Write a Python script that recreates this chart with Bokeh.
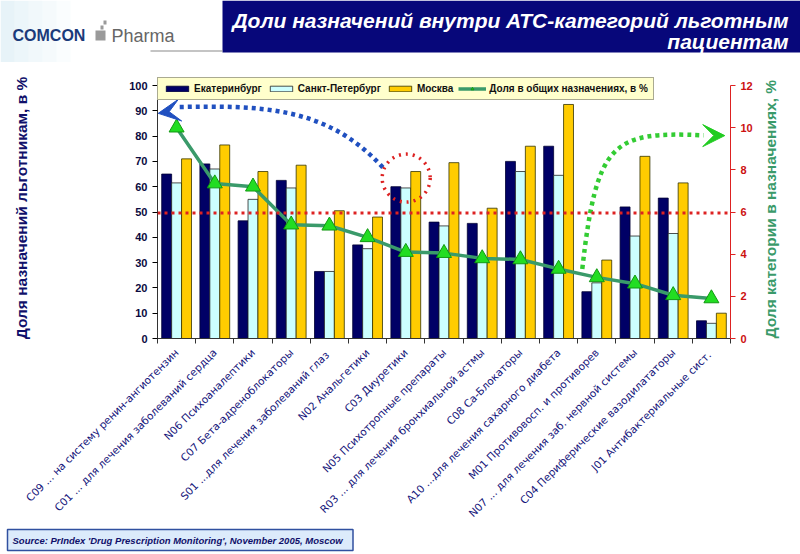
import math
from bokeh.plotting import figure
from bokeh.layouts import column
from bokeh.models import (Range1d, LinearAxis, FixedTicker, Span, Title,
                          Legend, LegendItem, Arrow, VeeHead, ColumnDataSource)
from bokeh.embed import file_html
from bokeh.resources import INLINE
from bokeh.core.properties import value

# ---------------- data ----------------
categories = [
    "C09 ... на систему ренин-ангиотензин",
    "C01 ... для лечения заболеваний сердца",
    "N06 Психоаналептики",
    "C07 Бета-адреноблокаторы",
    "S01 ...для лечения  заболеваний глаз",
    "N02 Анальгетики",
    "C03 Диуретики",
    "N05 Психотропные препараты",
    "R03 ... для лечения бронхиальной астмы",
    "C08 Ca-Блокаторы",
    "A10 ...для лечения сахарного диабета",
    "M01 Противовосп. и противорев",
    "N07 ... для лечения заб. нервной системы",
    "C04 Периферические вазодилататоры",
    "J01 Антибактериальные  сист.",
]
ekaterinburg = [65, 69, 46.5, 62.5, 26.5, 37, 60, 46, 45.5, 70, 76, 18.5, 52, 55.5, 7]
spb = [61.5, 67, 55, 59.5, 26.5, 35.5, 59.5, 44.5, 32, 66, 64.5, 22, 40.5, 41.5, 6]
moscow = [71, 76.5, 66, 68.5, 50.5, 48, 66, 69.5, 51.5, 76, 92.5, 31, 72, 61.5, 10]
share = [10.0, 7.35, 7.2, 5.4, 5.35, 4.8, 4.1, 4.05, 3.8, 3.75, 3.3, 2.9, 2.6, 2.05, 1.9]
left_ticks = [0, 10, 20, 30, 40, 50, 60, 70, 80, 90, 100]
right_ticks = [0, 2, 4, 6, 8, 10, 12]
series_names = ["Екатеринбург", "Санкт-Петербург", "Москва", "Доля в общих назначениях, в %"]
title_lines = ["Доли назначений внутри АТС-категорий льготным", "пациентам"]
left_label = "Доля назначений льготникам, в %"
right_label = "Доля категории в назначениях, %"
source_text = "Source:  PrIndex 'Drug Prescription Monitoring',  November 2005, Moscow"
logo_words = ["COMCON", "Pharma"]

W, H = 800, 554
HEAD = 62
sans = "Liberation Sans"

# ---------------- header ----------------
hd = figure(width=W, height=HEAD, output_backend="svg", toolbar_location=None,
            x_range=Range1d(0, W), y_range=Range1d(HEAD, 0),
            x_axis_type=None, y_axis_type=None, min_border=0)
hd.frame_align = False
hd.outline_line_color = None
hd.grid.visible = False
for i, a in enumerate([0.5, 0.4, 0.3, 0.2, 0.1]):
    hd.quad(left=i * 14, right=(i + 1) * 14, top=0, bottom=HEAD,
            fill_color="#cfe8f2", fill_alpha=a, line_alpha=0)
hd.quad(left=222, right=W, top=0, bottom=52, fill_color="#07077a", line_alpha=0)
hd.quad(left=150, right=222, top=50, bottom=51, fill_color="#8a8a8a", line_alpha=0)
hd.text(x=[788, 788], y=[20, 41], text=title_lines, text_align="right",
        text_baseline="alphabetic", text_font=value(sans), text_font_style="bold italic",
        text_font_size="21px", text_color="white")
hd.text(x=[12], y=[35], text=logo_words[:1], text_baseline="alphabetic",
        text_font=value(sans), text_font_style="bold", text_font_size="16px",
        text_color="#1b3a7a")
hd.quad(left=[95, 100, 103], right=[105, 103, 106], top=[30, 25, 20], bottom=[40, 29, 24],
        fill_color="#9a9a9a", line_alpha=0)
hd.text(x=[111], y=[35], text=logo_words[1:], text_baseline="alphabetic",
        text_font=value(sans), text_font_size="18px", text_color="#666666")

# ---------------- main chart ----------------
n = len(categories)
xc = [i + 0.5 for i in range(n)]
bw = 0.26
FT, FB = 77, 338           # frame top / bottom in page pixels
ppu = (338 - 85) / 100.0   # pixels per left unit
ytop = (FB - FT) / ppu

p = figure(width=W, height=H - HEAD, output_backend="svg", toolbar_location=None,
           x_range=Range1d(0, n), y_range=Range1d(0, ytop),
           min_border_left=157, min_border_right=W - 730,
           min_border_top=FT - HEAD, min_border_bottom=H - FB,
           background_fill_color="white", border_fill_color="white")
p.frame_align = False
p.outline_line_color = None
p.grid.visible = False
p.extra_y_ranges = {"right": Range1d(0, ytop * 12 / 100.0)}

src = ColumnDataSource(dict(x=xc, e=ekaterinburg, s=spb, m=moscow, r=share,
                            xe=[v - bw for v in xc], xm=[v + bw for v in xc]))
r_e = p.vbar(x="xe", top="e", width=bw, source=src, fill_color="#000066", line_color="#000033", line_width=0.8)
r_s = p.vbar(x="x", top="s", width=bw, source=src, fill_color="#ccffff", line_color="#222222", line_width=0.8)
r_m = p.vbar(x="xm", top="m", width=bw, source=src, fill_color="#ffcc00", line_color="#333300", line_width=0.8)

p.add_layout(Span(location=5.95, dimension="width", y_range_name="right",
                  line_color="#dd2222", line_width=3, line_dash="3 4"))

r_l = p.line(x="x", y="r", source=src, y_range_name="right", line_color="#3a9a6a", line_width=3.5)
r_t = p.scatter(x="x", y="r", source=src, y_range_name="right", marker="triangle", size=15,
                fill_color="#22dd22", line_color="#119911", line_width=1)

# blue dotted arrow
p.bezier(x0=[5.9], y0=[67.6], x1=[0.5], y1=[91.5], cx0=[4.4], cy0=[92.5], cx1=[2.6], cy1=[92.0],
         line_color="#2050c0", line_width=4.5, line_dash="4 4")
p.add_layout(Arrow(end=VeeHead(size=22, fill_color="#2050c0", line_color="#2050c0"),
                   x_start=0.6, y_start=90.3, x_end=0.02, y_end=89.0,
                   line_alpha=0, line_width=0))
# green dotted arrow
p.bezier(x0=[11.12], y0=[27.5], x1=[14.3], y1=[80.3], cx0=[11.5], cy0=[78], cx1=[11.9], cy1=[82],
         line_color="#33cc33", line_width=4.5, line_dash="4 4")
p.add_layout(Arrow(end=VeeHead(size=22, fill_color="#22cc22", line_color="#22cc22"),
                   x_start=14.2, y_start=80.2, x_end=14.85, y_end=80.2,
                   line_alpha=0, line_width=0))
# red dotted circle
p.scatter(x=[6.51], y=[63.4], size=48, marker="circle", fill_alpha=0,
          line_color="#dd2222", line_width=3.5, line_dash="2 5")

# x axis
p.xaxis.ticker = FixedTicker(ticks=xc, minor_ticks=list(range(n + 1)))
p.xaxis.major_label_overrides = {v: c for v, c in zip(xc, categories)}
p.xaxis.major_label_orientation = math.pi / 4
p.xaxis.major_tick_out = 0
p.xaxis.major_tick_in = 0
p.xaxis.minor_tick_out = 5
p.xaxis.minor_tick_in = 0
p.xaxis.major_label_standoff = 7
p.xaxis.major_label_text_font = "DejaVu Sans"
p.xaxis.major_label_text_font_size = "10.5px"
p.xaxis.major_label_text_color = "#14147a"
p.xaxis.axis_line_color = "#333333"
p.xaxis.minor_tick_line_color = "#333333"

# left axis
p.yaxis.ticker = FixedTicker(ticks=left_ticks)
p.yaxis.bounds = (0, 100)
p.yaxis.minor_tick_line_color = None
p.yaxis.major_tick_out = 5
p.yaxis.major_tick_in = 0
p.yaxis.major_label_text_font = sans
p.yaxis.major_label_text_font_style = "bold"
p.yaxis.major_label_text_font_size = "11px"
p.yaxis.major_label_text_color = "#0a0a40"
p.yaxis.axis_line_color = "#333333"
p.yaxis.axis_label = left_label
p.yaxis.axis_label_text_font = sans
p.yaxis.axis_label_text_font_size = "15.5px"
p.yaxis.axis_label_text_font_style = "bold"
p.yaxis.axis_label_text_color = "#10106a"
p.yaxis.axis_label_standoff = 96

# right axis
ax_r = LinearAxis(y_range_name="right", ticker=FixedTicker(ticks=right_ticks), bounds=(0, 12))
ax_r.minor_tick_line_color = None
ax_r.major_tick_out = 5
ax_r.major_tick_in = 0
ax_r.axis_line_color = "#dd2222"
ax_r.major_tick_line_color = "#dd2222"
ax_r.major_label_text_font = sans
ax_r.major_label_text_font_style = "bold"
ax_r.major_label_text_font_size = "11px"
ax_r.major_label_text_color = "#cc1111"
ax_r.axis_label = right_label
ax_r.axis_label_orientation = math.pi / 2
try:
    ax_r.axis_label_align = "start"
except Exception:
    pass
ax_r.axis_label_text_font = sans
ax_r.axis_label_text_font_size = "15.5px"
ax_r.axis_label_text_font_style = "bold"
ax_r.axis_label_text_color = "#3a9a6a"
ax_r.axis_label_standoff = 15
p.add_layout(ax_r, "right")

legend = Legend(items=[
    LegendItem(label=series_names[0], renderers=[r_e]),
    LegendItem(label=series_names[1], renderers=[r_s]),
    LegendItem(label=series_names[2], renderers=[r_m]),
    LegendItem(label=series_names[3], renderers=[r_l, r_t]),
], orientation="horizontal", location="top_left")
legend.background_fill_color = "#ffffcc"
legend.background_fill_alpha = 1
legend.border_line_color = "#555555"
legend.label_text_font = sans
legend.label_text_font_style = "bold"
legend.label_text_font_size = "10px"
legend.label_text_color = "#111111"
legend.glyph_width = 28
legend.glyph_height = 7
legend.label_standoff = 3
legend.spacing = 5
legend.padding = 5
legend.margin = 0
legend.label_height = 10
p.add_layout(legend, "center")

src_title = Title(text=source_text, align="left", offset=-150,
                  text_font=sans, text_font_style="bold italic", text_font_size="9.5px",
                  text_color="#10106a", background_fill_color="#dcebfb",
                  border_line_color="#3050a0", border_line_width=1.5, padding=5, standoff=2)
p.add_layout(src_title, "below")

open("out.html", "w").write(file_html(column(hd, p, spacing=0), INLINE))
